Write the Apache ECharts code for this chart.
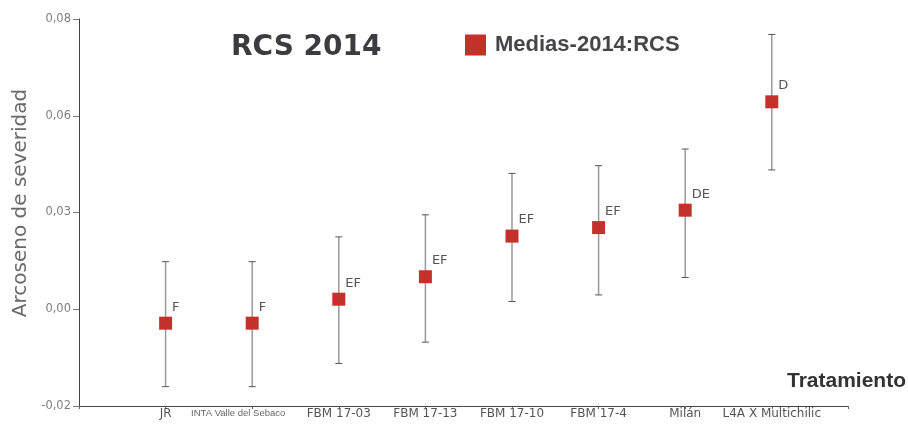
<!DOCTYPE html>
<html>
<head>
<meta charset="utf-8">
<script src="https://cdn.jsdelivr.net/npm/echarts@6/dist/echarts.min.js"></script>
<style>
  html, body { margin: 0; padding: 0; background: #fff; }
  #chart { width: 908px; height: 427px; }
</style>
</head>
<body>
<div id="chart"></div>
<script>
// Treatments (x axis), in display order
const categories = ['JR', 'INTA Valle del Sebaco', 'FBM 17-03', 'FBM 17-13', 'FBM 17-10', 'FBM 17-4', 'Milán', 'L4A X Multichilic'];
// Means of arcsine-transformed severity and their interval limits
const means = [0.0014, 0.0014, 0.0076, 0.0134, 0.0239, 0.0261, 0.0306, 0.0586];
const lower = [-0.0150, -0.0150, -0.0090, -0.0035, 0.0070, 0.0087, 0.0132, 0.0410];
const upper = [0.0173, 0.0173, 0.0237, 0.0294, 0.0401, 0.0421, 0.0464, 0.0760];
// Significance groups printed next to each mean
const letters = ['F', 'F', 'EF', 'EF', 'EF', 'EF', 'DE', 'D'];
// Y axis: five evenly spaced ticks from -0.02 to 0.08, printed with two decimals
const yMin = -0.02, yMax = 0.08, yStep = 0.025;
const yTickLabels = ['-0,02', '0,00', '0,03', '0,06', '0,08'];
// The long treatment name is set in a smaller, tighter label
const compactLabel = 'INTA Valle del Sebaco';

const chart = echarts.init(document.getElementById('chart'), null, { renderer: 'canvas' });

const meanData = means.map((m, i) => ({ value: [i, m], label: { formatter: letters[i] } }));
const barData = means.map((m, i) => [i, lower[i], upper[i]]);

const option = {
  backgroundColor: '#ffffff',
  animation: false,
  grid: { left: 79, right: 60, top: 19, bottom: 21, containLabel: false },
  title: {
    text: 'RCS 2014',
    left: 231, top: 34, padding: 0,
    textStyle: { fontFamily: 'DejaVu Sans', fontWeight: 'bold', fontSize: 28, color: '#3c3c40' }
  },
  legend: {
    left: 465, top: 34, padding: 0,
    itemWidth: 21, itemHeight: 21,
    icon: 'rect',
    data: ['Medias-2014:RCS'],
    textStyle: { fontFamily: 'Liberation Sans', fontWeight: 'bold', fontSize: 22, color: '#45454a', padding: [0, 0, 0, 4] }
  },
  xAxis: {
    type: 'value',
    min: -1, max: 7.88, interval: 1,
    splitLine: { show: false },
    axisLine: { show: true, onZero: false, lineStyle: { color: '#444', width: 1 } },
    axisTick: { show: true, length: 3, lineStyle: { color: '#666' } },
    axisLabel: {
      margin: 2,
      fontFamily: 'DejaVu Sans', fontSize: 12, color: '#555',
      formatter: function (v) {
        const i = Math.round(v);
        if (i < 0 || i >= categories.length || Math.abs(v - i) > 1e-6) return '';
        if (categories[i] === compactLabel) return '{n|' + categories[i] + '}';
        return categories[i];
      },
      rich: {
        n: { fontFamily: 'Liberation Sans', fontSize: 9.5, color: '#666', padding: [0, 28, 0, 0] }
      }
    }
  },
  yAxis: {
    type: 'value',
    min: yMin, max: yMax, interval: yStep,
    splitLine: { show: false },
    axisLine: { show: true, onZero: false, lineStyle: { color: '#444', width: 1 } },
    axisTick: { show: true, length: 6, lineStyle: { color: '#777' } },
    axisLabel: {
      margin: 8,
      fontFamily: 'DejaVu Sans', fontSize: 11.5, color: '#808080',
      formatter: function (v) {
        const k = Math.round((v - yMin) / yStep);
        return yTickLabels[k] !== undefined ? yTickLabels[k] : '';
      }
    }
  },
  graphic: [
    {
      type: 'text', x: 21, y: 203, rotation: Math.PI / 2,
      style: {
        text: 'Arcoseno de severidad', fontFamily: 'DejaVu Sans', fontSize: 20,
        fill: '#6a6a6a', align: 'center', verticalAlign: 'middle'
      }
    },
    {
      type: 'text', right: 2, top: 371,
      style: {
        text: 'Tratamiento', fontFamily: 'Liberation Sans', fontWeight: 'bold', fontSize: 21,
        fill: '#333'
      }
    }
  ],
  series: [
    {
      name: 'intervalos',
      type: 'custom',
      data: barData,
      z: 2,
      renderItem: function (params, api) {
        const x = api.value(0);
        const lo = api.coord([x, api.value(1)]);
        const hi = api.coord([x, api.value(2)]);
        const cap = 3.5;
        return {
          type: 'group',
          children: [
            { type: 'line', shape: { x1: lo[0], y1: lo[1], x2: hi[0], y2: hi[1] },
              style: { stroke: '#9a9a9a', lineWidth: 1.5 } },
            { type: 'line', shape: { x1: hi[0] - cap, y1: hi[1], x2: hi[0] + cap, y2: hi[1] },
              style: { stroke: '#555', lineWidth: 1 } },
            { type: 'line', shape: { x1: lo[0] - cap, y1: lo[1], x2: lo[0] + cap, y2: lo[1] },
              style: { stroke: '#555', lineWidth: 1 } }
          ]
        };
      }
    },
    {
      name: 'Medias-2014:RCS',
      type: 'scatter',
      data: meanData,
      z: 3,
      symbol: 'rect',
      symbolSize: 13,
      itemStyle: { color: '#c4312a', opacity: 1 },
      label: {
        show: true, position: 'right', distance: 0, offset: [0, -16],
        fontFamily: 'DejaVu Sans', fontSize: 13, color: '#555'
      }
    }
  ]
};

chart.setOption(option);
</script>
</body>
</html>
